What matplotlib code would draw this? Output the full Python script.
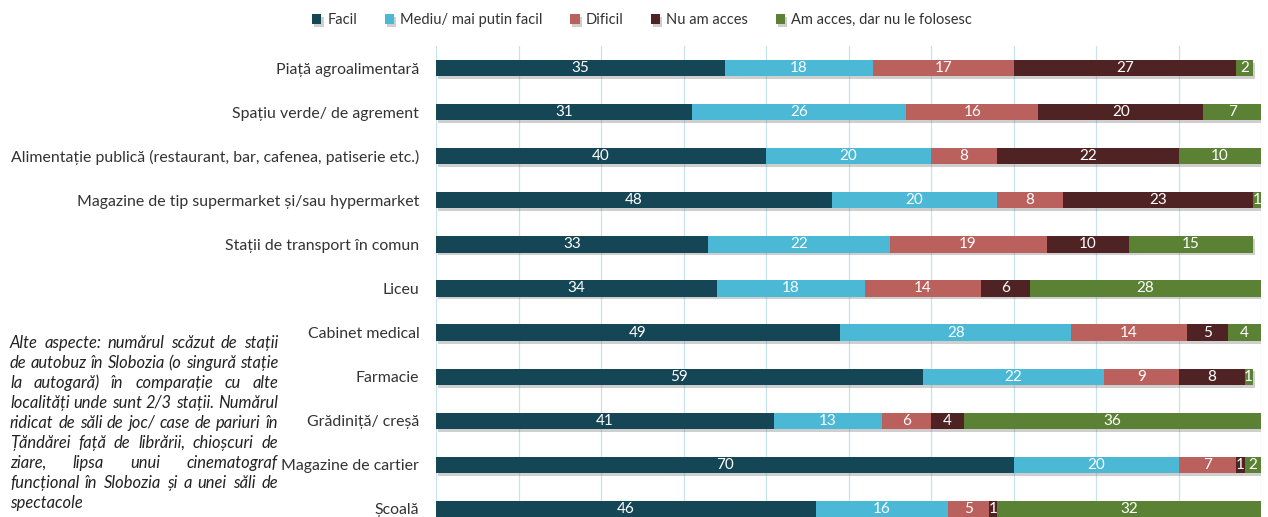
import matplotlib
matplotlib.use("Agg")
import matplotlib.pyplot as plt
import matplotlib.patheffects as pe
import numpy as np

plt.rcParams['font.family'] = ['Lato', 'DejaVu Sans']

categories = [
    "Piață agroalimentară",
    "Spațiu verde/ de agrement",
    "Alimentație publică (restaurant, bar, cafenea, patiserie etc.)",
    "Magazine de tip supermarket și/sau hypermarket",
    "Stații de transport în comun",
    "Liceu",
    "Cabinet medical",
    "Farmacie",
    "Grădiniță/ creșă",
    "Magazine de cartier",
    "Școală",
]
series_names = ["Facil", "Mediu/ mai putin facil", "Dificil", "Nu am acces",
                "Am acces, dar nu le folosesc"]
facil = [35, 31, 40, 48, 33, 34, 49, 59, 41, 70, 46]
mediu = [18, 26, 20, 20, 22, 18, 28, 22, 13, 20, 16]
dificil = [17, 16, 8, 8, 19, 14, 14, 9, 6, 7, 5]
nu_acces = [27, 20, 22, 23, 10, 6, 5, 8, 4, 1, 1]
nu_folosesc = [2, 7, 10, 1, 15, 28, 4, 1, 36, 2, 32]
colors = ["#154655", "#4BB8D6", "#BA605D", "#4F2324", "#5B8135"]

note_lines = [
    "Alte aspecte:  numărul  scăzut de stații",
    "de autobuz în Slobozia (o singură stație",
    "la autogară) în comparație cu alte",
    "localități unde sunt 2/3 stații. Numărul",
    "ridicat de săli de joc/ case de pariuri  în",
    "Țăndărei față de librării, chioșcuri de",
    "ziare, lipsa unui cinematograf",
    "funcțional în Slobozia și a unei săli de",
    "spectacole",
]

W, H = 1268, 517
fig = plt.figure(figsize=(W / 100, H / 100), dpi=100)
# axes runs past the bottom edge so the last row is clipped
ax = fig.add_axes([436 / W, (H - 531) / H, 825 / W, (531 - 46) / H])

y = np.arange(len(categories))
left = np.zeros(len(categories))
shadow = [pe.SimplePatchShadow(offset=(1.5, -2), shadow_rgbFace="#777777", alpha=0.35),
          pe.Normal()]
for name, vals, col in zip(series_names,
                           [facil, mediu, dificil, nu_acces, nu_folosesc], colors):
    vals = np.array(vals)
    bars = ax.barh(y, vals, left=left, height=0.37, color=col, label=name,
                   zorder=3)
    for b in bars:
        b.set_path_effects(shadow)
    for yi, l, v in zip(y, left, vals):
        ax.text(l + v / 2, yi, str(v), ha="center", va="center",
                color="white", fontsize=11, zorder=4)
    left += vals

ax.set_xlim(0, 100)
ax.set_ylim(len(categories) - 0.5, -0.5)
ax.set_xticks(np.arange(0, 101, 10))
ax.xaxis.grid(True, color="#C8E3EE", linewidth=0.9, zorder=0)
ax.tick_params(axis="x", length=0, labelbottom=False)
ax.tick_params(axis="y", length=0, pad=12, labelsize=11.4, labelcolor="#333333")
ax.set_yticks(y)
ax.set_yticklabels(categories)
for s in ax.spines.values():
    s.set_visible(False)

fig.legend(loc="upper center", bbox_to_anchor=(642 / W, 1.0), ncol=5,
           frameon=False, fontsize=10.5, handlelength=0.65, handleheight=0.65,
           handletextpad=0.4, columnspacing=1.9, labelcolor="#333333")

# justified italic note on the left
renderer = fig.canvas.get_renderer()
x0, x1 = 10, 278
for i, line in enumerate(note_lines):
    yc = 1 - (343 + 20.0 * i) / H
    words = line.split()
    texts = [fig.text(0, yc, w, fontsize=11.9, style="italic", color="#222222",
                      va="center") for w in words]
    widths = [t.get_window_extent(renderer).width for t in texts]
    if i == len(note_lines) - 1 or len(words) == 1:
        gap = renderer.points_to_pixels(11.9) * 0.27
    else:
        gap = (x1 - x0 - sum(widths)) / (len(words) - 1)
    pos = x0
    for t, w in zip(texts, widths):
        t.set_x(pos / W)
        pos += w + gap

fig.savefig("out.png", dpi=100)
